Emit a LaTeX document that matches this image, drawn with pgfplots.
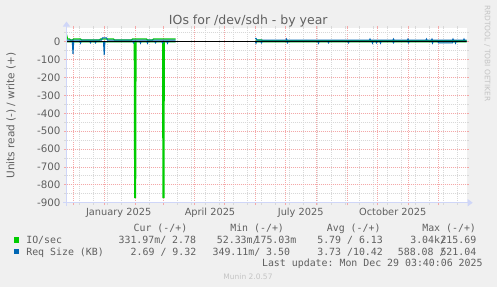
\documentclass[border=0pt]{standalone}
\usepackage{pgfplots}
\pgfplotsset{compat=1.18}
\usepackage{fontspec}
\setmainfont{DejaVu Sans}
\setmonofont{DejaVu Sans Mono}
\usetikzlibrary{arrows.meta}
\definecolor{bg}{HTML}{F0F0F0}
\definecolor{txt}{HTML}{606060}
\definecolor{axcol}{HTML}{CFD6F8}
\definecolor{mgridc}{HTML}{F4A8A8}
\definecolor{gridc}{HTML}{D8D8D8}
\definecolor{mgreen}{HTML}{00CC00}
\definecolor{mblue}{HTML}{0066B3}
\definecolor{faint}{HTML}{C4C4C4}
\begin{document}
\begin{tikzpicture}[x=1bp,y=1bp]
\begin{scope}[shift={(-66.5,-84.3)}]
\fill[bg] (0,0) rectangle (497,287);
\end{scope}
\begin{axis}[
  anchor=south west, scale only axis,
  width=400bp, height=174.4bp,
  xmin=0, xmax=400, ymin=-900, ymax=75,
  axis background/.style={fill=white},
  axis line style={draw=none},
  xtick={6.4,37.4,68.4,96.4,127.4,157.4,188.4,218.4,249.4,280.4,310.4,341.4,371.4},
  xticklabels={},
  minor xtick={12.8,26.8,...,400},
  extra x ticks={52.2,143.5,234.2,326.2},
  extra x tick labels={January 2025,April 2025,July 2025,October 2025},
  extra x tick style={grid=none, major tick length=0pt,
     xticklabel style={font=\fontsize{9.8bp}{12bp}\selectfont, text=txt, yshift=-2bp}},
  ytick={-900,-800,...,0},
  yticklabels={-900,-800,-700,-600,-500,-400,-300,-200,-100,0},
  minor ytick={-850,-750,...,50},
  yticklabel style={font=\fontsize{10.3bp}{12bp}\selectfont, text=txt},
  grid=both,
  major grid style={mgridc, line width=0.8bp, dash pattern=on 1bp off 1bp},
  minor grid style={gridc, line width=0.8bp, dash pattern=on 1bp off 1bp},
  tick align=outside,
  major tick length=2.5bp, minor tick length=2bp,
  major tick style={mgridc, line width=0.8bp},
  minor tick style={gridc, line width=0.8bp},
  unbounded coords=jump,
  clip=true,
]
% IO/sec read (-)
\addplot[mgreen, line width=1.4bp] coordinates {
 (0,0) (67.9,0) (68.3,-870) (69.0,-870) (69.4,0) (96.2,0) (96.6,-870) (97.3,-870) (97.7,0) (109,0) (110,nan)
 (189,0) (400,0)};
% IO/sec write (+)
\addplot[mgreen, line width=1.3bp] coordinates {
 (0,40) (1,15) (3,15) (4,10) (6,10) (7,15) (14,15) (15,10) (33,10) (34,15) (47,15) (48,10)
 (65,10) (66,15) (80,15) (81,10) (86,10) (87,15) (109,15) (110,nan)
 (189,10) (195,10) (196,5.6) (400,5.6)};
% Req Size read (-)
\addplot[mblue, line width=1bp] coordinates {
 (0,0) (5.8,0) (6.5,-68) (7.2,0) (13.5,0) (14,-8) (14.5,0) (23.5,0) (24,-6) (24.5,0)
 (28.5,0) (29,-6) (29.5,0) (37,0) (37.7,-75) (38.4,0) (66.5,0) (67,-6) (67.5,0)
 (73.5,0) (74,-8) (74.5,0) (80.5,0) (81,-8) (81.5,0) (88.5,0) (89,-6) (89.5,0)
 (95.5,0) (96,-6) (96.5,0) (100.5,0) (101,-8) (101.5,0) (109,0) (110,nan)
 (189,0) (189.5,-8) (190,0) (194.5,0) (195,-6) (195.5,0) (220.5,0) (221,-6) (221.5,0)
 (251.5,0) (252,-8) (252.5,0) (261.5,0) (262,-6) (262.5,0) (281.5,0) (282,-6) (282.5,0)
 (305.5,0) (306,-8) (306.5,0) (309.5,0) (310,-6) (310.5,0) (313.5,0) (314,-8) (314.5,0)
 (326.5,0) (327,-6) (327.5,0) (341.5,0) (342,-6) (342.5,0) (365.5,0) (366,-8) (366.5,0)
 (371.5,0) (372,-6) (386,-6) (386.5,0) (388.5,0) (389,-8) (389.5,0) (400,0)};
% Req Size write (+)
\addplot[mblue, line width=1bp] coordinates {
 (0,9.5) (35,9.5) (36,22) (40,22) (41,9.5) (109,9.5) (110,nan)
 (188.6,19) (189.5,19) (190.5,9.5) (219.5,9.5) (220,15) (220.5,9.5) (303,9.5) (303.5,15) (304,9.5)
 (326.5,9.5) (327,15) (327.5,9.5) (341,9.5) (341.5,15) (342,9.5) (359.5,9.5) (360,15) (360.5,9.5)
 (365,9.5) (365.5,15) (366,9.5) (386,9.5) (386.5,15) (387,9.5) (397,9.5) (397.5,15) (398,9.5) (400,9.5)};
% zero line
\addplot[black, line width=1bp] coordinates {(0,0) (400,0)};
\end{axis}
\begin{scope}[shift={(-66.5,-84.3)}]
% axis lines with arrows
\draw[axcol, line width=1bp, -{Triangle[length=5bp,width=7bp]}] (63,84.3) -- (472.7,84.3);
\draw[axcol, line width=1bp, -{Triangle[length=5bp,width=7bp]}] (66.5,81) -- (66.5,265.5);
% title and labels
\node[anchor=base, inner sep=0, font=\fontsize{12.5bp}{14bp}\selectfont, text=txt] at (248.3,263) {IOs for /dev/sdh - by year};
\node[rotate=90, inner sep=0, font=\fontsize{10.5bp}{12bp}\selectfont, text=txt] at (11,171.5) {Units read (-) / write (+)};
\node[rotate=-90, inner sep=0, font=\fontsize{7.5bp}{9bp}\selectfont, text=faint] at (487.3,233.7) {RRDTOOL / TOBI OETIKER};
\node[anchor=base, inner sep=0, font=\fontsize{7.5bp}{9bp}\selectfont, text=faint] at (248,8) {Munin 2.0.57};
% legend swatches
\fill[mgreen] (14,44.3) rectangle (19.3,49.7);
\fill[mblue] (14,32.7) rectangle (19.3,38);
% legend text
\begin{scope}[every node/.style={anchor=base west, inner sep=0, font=\ttfamily\fontsize{9.9bp}{12bp}\selectfont, text=txt}]
\node at (133.4,56) {Cur (-/+)};
\node at (230.1,56) {Min (-/+)};
\node at (326.7,56) {Avg (-/+)};
\node at (422.1,56) {Max (-/+)};
\node at (26.1,43.4) {IO/sec};
\node at (118.4,43.4) {331.97m/ 2.78};
\node at (216.7,43.4) {52.33m/};
\node at (254.4,43.4) {175.03m};
\node at (317.1,43.4) {5.79 / 6.13};
\node at (410.1,43.4) {3.04k/};
\node at (440.3,43.4) {215.69};
\node at (26.1,31.4) {Req Size (KB)};
\node at (130.5,31.4) {2.69 / 9.32};
\node at (212.4,31.4) {349.11m/ 3.50};
\node at (317.1,31.4) {3.73 /10.42};
\node at (397.7,31.4) {588.08 /};
\node at (440.3,31.4) {521.04};
\end{scope}
\node[anchor=base east, inner sep=0, font=\ttfamily\fontsize{9.9bp}{12bp}\selectfont, text=txt] at (482.8,20.1) {Last update: Mon Dec 29 03:40:06 2025};
\end{scope}
\end{tikzpicture}
\end{document}
